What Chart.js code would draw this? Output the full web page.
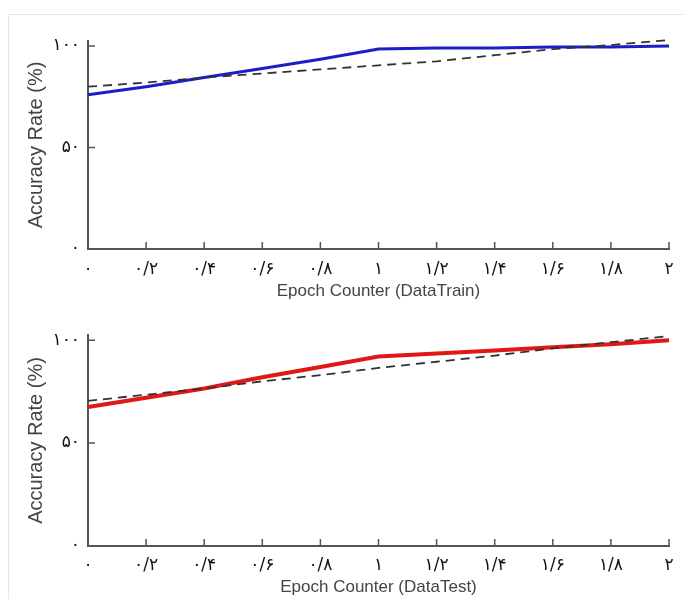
<!DOCTYPE html>
<html>
<head>
<meta charset="utf-8">
<script src="https://cdn.jsdelivr.net/npm/chart.js@4"></script>
<style>
  html, body { margin: 0; padding: 0; background: #fff; }
  #wrap { position: relative; width: 684px; height: 599px; overflow: hidden; }
  #frame { position: absolute; left: 8px; top: 14px; width: 700px; height: 620px; border: 1px solid #ece6d6; }
  canvas { position: absolute; left: 0; }
  #trainChart { top: 0; }
  #testChart { top: 295px; }
</style>
</head>
<body>
<div id="wrap">
  <div id="frame"></div>
  <canvas id="trainChart" width="684" height="305"></canvas>
  <canvas id="testChart" width="684" height="304"></canvas>
</div>
<script>
// epoch values on the x axis
const epochs = [0, 0.2, 0.4, 0.6, 0.8, 1, 1.2, 1.4, 1.6, 1.8, 2];
const xTickLabels = ['۰', '۰/۲', '۰/۴', '۰/۶', '۰/۸', '۱', '۱/۲', '۱/۴', '۱/۶', '۱/۸', '۲'];
const yTickValues = [0, 50, 100];
const yTickLabels = ['۰', '۵۰', '۱۰۰'];

// accuracy (%)
const trainAcc = [76, 80, 84.5, 89, 93.5, 98.5, 99, 99, 99.5, 99.5, 100];
const trainFit = [80, 82, 84.5, 86.5, 88.5, 90.5, 92.5, 95.5, 98.5, 100.5, 103];
const testAcc = [67.5, 72, 76.5, 82, 87, 92, 93.5, 95, 96.5, 98, 100];
const testFit = [70.5, 73.5, 76.5, 80, 83, 86.5, 89.5, 92.5, 96, 99, 102];

const innerTicks = {
    id: 'innerTicks',
    afterDatasetsDraw(chart) {
        const ctx = chart.ctx;
        const area = chart.chartArea;
        const x = chart.scales.x;
        const y = chart.scales.y;
        ctx.save();
        ctx.strokeStyle = '#555';
        ctx.lineWidth = 1.5;
        ctx.beginPath();
        x.ticks.forEach((t, i) => {
            const px = x.getPixelForTick(i);
            ctx.moveTo(px, area.bottom);
            ctx.lineTo(px, area.bottom - 7);
        });
        y.ticks.forEach((t, i) => {
            const py = y.getPixelForTick(i);
            ctx.moveTo(area.left, py);
            ctx.lineTo(area.left + 7, py);
        });
        ctx.stroke();
        ctx.restore();
    }
};

function points(vals) {
    return epochs.map((e, i) => ({x: e, y: vals[i]}));
}

function plotAccuracy(setting = {})
{
    return new Chart(document.getElementById(setting.id), {
        type: 'line',
        data: {
            datasets: [
                {
                    label: 'fit',
                    data: points(setting.fit),
                    borderColor: '#333',
                    borderWidth: 1.8,
                    borderDash: [9, 6],
                    pointRadius: 0,
                    tension: 0,
                    clip: false
                },
                {
                    label: 'accuracy',
                    data: points(setting.acc),
                    borderColor: setting.color,
                    borderWidth: setting.width,
                    pointRadius: 0,
                    tension: 0,
                    clip: false
                }
            ]
        },
        options: {
            responsive: false,
            animation: false,
            events: [],
            layout: { padding: { left: 24, top: setting.top, right: 15, bottom: 0 } },
            plugins: { legend: { display: false }, tooltip: { enabled: false } },
            scales: {
                x: {
                    type: 'linear',
                    min: 0,
                    max: 2,
                    afterBuildTicks: s => { s.ticks = epochs.map(v => ({value: v})); },
                    afterFit: s => { s.height = setting.xHeight; },
                    grid: { display: true, drawOnChartArea: false, drawTicks: false, color: 'transparent' },
                    border: { display: true, color: '#555', width: 2 },
                    ticks: {
                        padding: setting.tickPad,
                        maxRotation: 0,
                        autoSkip: false,
                        color: '#111',
                        font: { family: 'DejaVu Sans', size: 17 },
                        callback: (v, i) => xTickLabels[i]
                    },
                    title: {
                        display: true,
                        text: setting.xTitle,
                        color: '#444',
                        font: { family: 'Liberation Sans', size: 17 },
                        padding: { top: 0, bottom: setting.titlePad }
                    }
                },
                y: {
                    min: 0,
                    max: 102.5,
                    afterBuildTicks: s => { s.ticks = yTickValues.map(v => ({value: v})); },
                    afterFit: s => { s.width = 64; },
                    grid: { display: true, drawOnChartArea: false, drawTicks: false, color: 'transparent' },
                    border: { display: true, color: '#555', width: 2 },
                    ticks: {
                        padding: 8,
                        color: '#111',
                        font: { family: 'DejaVu Sans', size: 17 },
                        callback: (v, i) => yTickLabels[i]
                    },
                    title: {
                        display: true,
                        text: 'Accuracy Rate (%)',
                        color: '#444',
                        font: { family: 'Liberation Sans', size: 20 },
                        padding: 0
                    }
                }
            }
        },
        plugins: [innerTicks]
    });
}

plotAccuracy({
    id: 'trainChart',
    acc: trainAcc,
    fit: trainFit,
    color: '#1c1cc8',
    width: 3,
    top: 41,
    xHeight: 56,
    tickPad: 10,
    titlePad: 3,
    xTitle: 'Epoch Counter (DataTrain)'
});

plotAccuracy({
    id: 'testChart',
    acc: testAcc,
    fit: testFit,
    color: '#e01818',
    width: 4,
    top: 40,
    xHeight: 53,
    tickPad: 9,
    titlePad: 1,
    xTitle: 'Epoch Counter (DataTest)'
});
</script>
</body>
</html>
